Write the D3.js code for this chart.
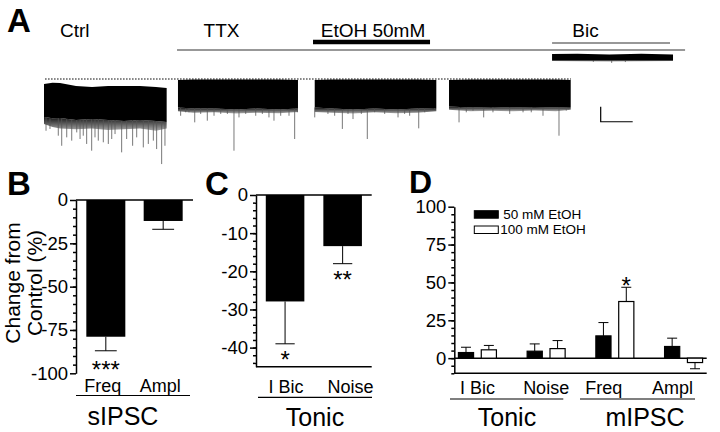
<!DOCTYPE html>
<html>
<head>
<meta charset="utf-8">
<script src="https://cdn.jsdelivr.net/npm/d3@7"></script>
<style>
  body { margin: 0; background: #fff; }
  svg { display: block; font-family: "Liberation Sans", Arial, sans-serif; }
</style>
</head>
<body>
<div id="fig"></div>
<script>
/* ---- panel B : sIPSC, % change from control ---- */
const sipscCats = ["Freq", "Ampl"];
const sipscMean = [-78.9, -12.1];
const sipscSem = [8.1, 4.8];
const sipscStars = ["***", ""];

/* ---- panel C : tonic current ---- */
const tonicCats = ["I Bic", "Noise"];
const tonicMean = [-27.9, -13.4];
const tonicSem = [11.1, 4.6];
const tonicStars = ["*", "**"];

/* ---- panel D : 50 vs 100 mM EtOH ---- */
const dCats = ["I Bic", "Noise", "Freq", "Ampl"];
const dGroups = [["Tonic", ["I Bic", "Noise"]], ["mIPSC", ["Freq", "Ampl"]]];
const dSeries = ["50 mM EtOH", "100 mM EtOH"];
const d50Mean = [3.7, 4.6, 14.7, 7.7];
const d50Sem = [3.5, 4.8, 8.8, 5.5];
const d100Mean = [5.5, 6.3, 37.4, -2.9];
const d100Sem = [2.9, 5.3, 9.4, 4.1];
const d100Stars = ["", "", "*", ""];

/* ---- panel A : current traces (time in s, current in pA) ---- */
// envelope rows: [t, top, dense bottom, fringe bottom]
const ctrlEnv = [[0,-33,-253,-300],[8,-25,-262,-320],[15,-27,-260,-330],[30,-47,-273,-335],[45,-53,-267,-330],[60,-47,-273,-340],[75,-47,-280,-335],[90,-47,-273,-330],[105,-53,-280,-345],[115,-60,-287,-330]];
const ctrlSpikes = [[1.9,-345],[5.6,-333],[13.4,-378],[16.6,-445],[21.3,-389],[26,-411],[30.7,-356],[33.8,-400],[36.8,-378],[40,-433],[44.7,-478],[47.8,-389],[50.9,-411],[55.6,-422],[60.3,-433],[63.5,-400],[66.6,-367],[72.8,-489],[77.5,-400],[83.1,-445],[86.9,-389],[93.1,-456],[97.8,-433],[102.5,-411],[105.6,-467],[110.3,-567],[113.4,-445]];
const ttxEnv = [[125.6,-7,-190,-215],[140,-3,-197,-225],[160,-3,-197,-222],[180,-3,-203,-230],[200,-3,-197,-225],[220,-3,-203,-228],[238.1,-7,-197,-220]];
const ttxSpikes = [[128.1,-245],[132.8,-222],[135.9,-222],[141.3,-289],[146.9,-233],[153.1,-278],[159.4,-245],[165.7,-233],[171.9,-233],[178.1,-478],[182.8,-256],[189.1,-233],[198.5,-245],[204.7,-233],[210.9,-256],[215.6,-278],[221.9,-245],[229.7,-245],[235,-400],[237.5,-222]];
const etohEnv = [[253.8,-7,-190,-220],[270,-3,-197,-225],[290,-3,-203,-230],[310,-3,-197,-222],[330,-3,-203,-228],[350,-3,-197,-225],[367.8,-7,-193,-215]];
const etohSpikes = [[253.8,-256],[266.2,-233],[272.5,-245],[279.7,-333],[285,-233],[289.7,-267],[297.5,-233],[303.1,-400],[310,-222],[319.4,-233],[331.9,-256],[338.1,-233],[342.8,-245],[351.3,-329],[356.9,-222],[366.3,-200]];
const washEnv = [[379.7,-7,-183,-205],[400,-3,-190,-215],[420,-3,-187,-212],[440,-3,-190,-215],[460,-3,-187,-210],[480,-3,-190,-215],[493.8,-7,-187,-205]];
const washSpikes = [[389.1,-289],[395.9,-222],[402.2,-211],[412.2,-256],[420.9,-222],[436.6,-233],[449.1,-222],[456.8,-222],[467.8,-245],[482.8,-378],[489.6,-211]];
const bicEnv = [[476.3,166,125,120],[500,168,124,118],[530,164,123,116],[560,168,125,119],[589.7,164,125,120]];
const bicSpikes = [[532.2,107],[545,113],[515,114]];
// drug applications [label, start, end]
const drugs = [["TTX", 124.7, 601], ["EtOH 50mM", 252.2, 361.9], ["Bic", 476.3, 586.9]];
const scaleBar = { t: 521.9, pA: -185, dt: 30, dI: 100 };

const W = 720, H = 432;
const svg = d3.create("svg").attr("width", W).attr("height", H).attr("viewBox", [0, 0, W, H]);
svg.append("rect").attr("width", W).attr("height", H).attr("fill", "#fff");

// dégradé pour la frange de bruit sous les traces
const grad = svg.append("defs").append("linearGradient").attr("id", "fringe")
  .attr("x1", 0).attr("x2", 0).attr("y1", 0).attr("y2", 1);
grad.append("stop").attr("offset", "0%").attr("stop-color", "#111");
grad.append("stop").attr("offset", "100%").attr("stop-color", "#aaa");

/* petite fonction pour les lettres de panneau */
function panelLetter(txt, x, y, fs) {
  svg.append("text").attr("x", x).attr("y", y).text(txt)
    .attr("font-size", fs || 33).attr("font-weight", "bold");
}

/* ============ A ============ */
const xA = d3.scaleLinear().domain([0, 600]).range([44, 684]);
const yA = d3.scaleLinear().domain([0, -600]).range([79, 169]);

panelLetter("A", 7, 32);
svg.append("text").attr("x", 60).attr("y", 37).attr("font-size", 19).text("Ctrl");

const gDrug = svg.append("g");
const drugY = [50, 42, 43];
const drugW = [1.2, 4.5, 1.2];
const drugLabelX = [221.5, 373, 585.5];
drugs.forEach((d, i) => {
  gDrug.append("line").attr("x1", xA(d[1])).attr("x2", xA(d[2]))
    .attr("y1", drugY[i]).attr("y2", drugY[i])
    .attr("stroke", i === 1 ? "#000" : "#333").attr("stroke-width", drugW[i]);
  gDrug.append("text").attr("x", drugLabelX[i]).attr("y", 37)
    .attr("text-anchor", "middle").attr("font-size", 19).text(d[0]);
});

// dotted baseline
svg.append("line").attr("x1", xA(1)).attr("x2", xA(494)).attr("y1", yA(0)).attr("y2", yA(0))
  .attr("stroke", "#000").attr("stroke-width", 1).attr("stroke-dasharray", "1.5,1.5");

function drawTrace(env, spikes) {
  const g = svg.append("g");
  const fringe = d3.area().x(d => xA(d[0])).y0(d => yA(d[3])).y1(d => yA(d[2]));
  g.append("path").datum(env).attr("d", fringe).attr("fill", "url(#fringe)");
  g.selectAll("line").data(spikes).join("line")
    .attr("x1", d => xA(d[0])).attr("x2", d => xA(d[0]))
    .attr("y1", d => yA(d3.least(env, e => Math.abs(e[0] - d[0]))[2])).attr("y2", d => yA(d[1]))
    .attr("stroke", "#555").attr("stroke-width", 0.8);
  const area = d3.area().x(d => xA(d[0])).y0(d => yA(d[2])).y1(d => yA(d[1]));
  g.append("path").datum(env).attr("d", area).attr("fill", "#000");
}
drawTrace(ctrlEnv, ctrlSpikes);
drawTrace(ttxEnv, ttxSpikes);
drawTrace(etohEnv, etohSpikes);
drawTrace(washEnv, washSpikes);
drawTrace(bicEnv, bicSpikes);

// scale bar
svg.append("path")
  .attr("d", `M${xA(scaleBar.t)},${yA(scaleBar.pA)}V${yA(scaleBar.pA - scaleBar.dI)}H${xA(scaleBar.t + scaleBar.dt)}`)
  .attr("fill", "none").attr("stroke", "#000").attr("stroke-width", 1.2);

/* ============ axes helpers ============ */
function yAxis(x, y, major, minor, fs) {
  const g = svg.append("g").attr("transform", `translate(${x},0)`);
  g.call(d3.axisLeft(y).tickValues(major).tickSize(6).tickSizeOuter(0).tickPadding(2).tickFormat(d => String(d)));
  g.append("g").call(d3.axisLeft(y).tickValues(minor).tickSize(3).tickFormat(""))
    .call(gg => gg.select(".domain").remove());
  g.attr("font-size", fs).attr("font-family", null);
  g.selectAll("path,line").attr("stroke", "#000").attr("stroke-width", 1.5);
  g.selectAll("text").attr("fill", "#000");
  return g;
}
function hline(x1, x2, y, w) {
  svg.append("line").attr("x1", x1).attr("x2", x2).attr("y1", y).attr("y2", y)
    .attr("stroke", "#000").attr("stroke-width", w || 1.5);
}
function star(x, cy, txt, fs) {
  svg.append("text").attr("x", x).attr("y", cy + 0.58 * fs).attr("text-anchor", "middle")
    .attr("font-size", fs).text(txt);
}
function simpleBars(cats, mean, sem, x, y, capFrac) {
  const g = svg.append("g");
  const bw = x.bandwidth();
  g.selectAll("rect").data(cats).join("rect")
    .attr("x", d => x(d)).attr("width", bw)
    .attr("y", (d, i) => y(Math.max(0, mean[i])))
    .attr("height", (d, i) => Math.abs(y(mean[i]) - y(0)))
    .attr("fill", "#000");
  cats.forEach((c, i) => {
    const cx = x(c) + bw / 2, e = mean[i] - sem[i];
    g.append("line").attr("x1", cx).attr("x2", cx).attr("y1", y(mean[i])).attr("y2", y(e))
      .attr("stroke", "#000").attr("stroke-width", 1);
    g.append("line").attr("x1", cx - bw * capFrac / 2).attr("x2", cx + bw * capFrac / 2)
      .attr("y1", y(e)).attr("y2", y(e)).attr("stroke", "#000").attr("stroke-width", 1);
  });
}

/* ============ B ============ */
panelLetter("B", 7, 195);
const yB = d3.scaleLinear().domain([-100, 0]).range([373.3, 200]);
const xB = d3.scaleBand().domain(sipscCats).range([76, 193]).paddingInner(0.32).paddingOuter(0.18);
simpleBars(sipscCats, sipscMean, sipscSem, xB, yB, 0.56);
yAxis(76, yB, d3.range(-100, 1, 25), d3.range(-95, 0, 5), 18.5);
hline(76, 193, yB(0));
star(xB("Freq") + xB.bandwidth() / 2, 364, sipscStars[0], 24);
sipscCats.forEach((c, i) => {
  svg.append("text").attr("x", xB(c) + xB.bandwidth() / 2 - 3).attr("y", 391.5)
    .attr("text-anchor", "middle").attr("font-size", 18).text(c);
});
hline(76, 190, 395.5, 1.2);
svg.append("text").attr("x", 123).attr("y", 425).attr("text-anchor", "middle").attr("font-size", 25).text("sIPSC");
svg.append("text").attr("transform", "translate(20,283) rotate(-90)").attr("text-anchor", "middle")
  .attr("font-size", 21).text("Change from");
svg.append("text").attr("transform", "translate(41.5,283) rotate(-90)").attr("text-anchor", "middle")
  .attr("font-size", 21).text("Control (%)");

/* ============ C ============ */
panelLetter("C", 205, 195);
const yC = d3.scaleLinear().domain([-45, 0]).range([366.7, 195]);
const xC = d3.scaleBand().domain(tonicCats).range([256, 371.7]).paddingInner(0.33).paddingOuter(0.17);
simpleBars(tonicCats, tonicMean, tonicSem, xC, yC, 0.5);
yAxis(256, yC, d3.range(-40, 1, 10), d3.range(-44, 0, 2), 18.5);
hline(256, 371.7, yC(0));
hline(256, 371.7, yC(-45));
star(xC("I Bic") + xC.bandwidth() / 2, 354, tonicStars[0], 24);
star(xC("Noise") + xC.bandwidth() / 2, 274, tonicStars[1], 24);
tonicCats.forEach((c, i) => {
  svg.append("text").attr("x", xC(c) + xC.bandwidth() / 2 + (i ? 8 : 1)).attr("y", 393)
    .attr("text-anchor", "middle").attr("font-size", 18).text(c);
});
hline(258, 372, 397.3, 1.2);
svg.append("text").attr("x", 315).attr("y", 426).attr("text-anchor", "middle").attr("font-size", 25).text("Tonic");

/* ============ D ============ */
panelLetter("D", 409, 193, 32);
const yD = d3.scaleLinear().domain([-10, 100]).range([373.3, 206.7]);
const xD = d3.scaleBand().domain(dCats).range([454.3, 706.7]).paddingInner(0.447).paddingOuter(0.06);
const xDs = d3.scaleBand().domain(dSeries).range([0, xD.bandwidth()]).paddingInner(0.337);
const dMeans = [d50Mean, d100Mean], dSems = [d50Sem, d100Sem];
const dFill = ["#000", "#fff"];
hline(454.3, 706.7, yD(0));
const gD = svg.append("g");
dSeries.forEach((s, si) => {
  const bw = xDs.bandwidth();
  dCats.forEach((c, i) => {
    const m = dMeans[si][i], e = m + Math.sign(m) * dSems[si][i];
    const x0 = xD(c) + xDs(s), cx = x0 + bw / 2;
    gD.append("line").attr("x1", cx).attr("x2", cx).attr("y1", yD(m)).attr("y2", yD(e))
      .attr("stroke", "#000").attr("stroke-width", 1);
    gD.append("line").attr("x1", cx - bw * 0.33).attr("x2", cx + bw * 0.33).attr("y1", yD(e)).attr("y2", yD(e))
      .attr("stroke", "#000").attr("stroke-width", 1);
    gD.append("rect").attr("x", x0).attr("width", bw)
      .attr("y", yD(Math.max(0, m))).attr("height", Math.abs(yD(m) - yD(0)))
      .attr("fill", dFill[si]).attr("stroke", "#000").attr("stroke-width", 1.2);
  });
});
yAxis(454.3, yD, d3.range(0, 101, 25), d3.range(-10, 100, 5), 18.5);
hline(454.3, 706.7, yD(-10));
d100Stars.forEach((st, i) => {
  if (st) star(xD(dCats[i]) + xDs(dSeries[1]) + xDs.bandwidth() / 2, 280, st, 24);
});
// legend
const leg = svg.append("g").attr("transform", "translate(474.3,210.7)");
dSeries.forEach((s, i) => {
  leg.append("rect").attr("x", 0).attr("y", i * 15.3).attr("width", 24).attr("height", 7.5)
    .attr("fill", dFill[i]).attr("stroke", "#000").attr("stroke-width", 1);
  leg.append("text").attr("x", i ? 26 : 29).attr("y", i * 15.3 + 8.5).attr("font-size", 13.5).text(s);
});
dCats.forEach((c, i) => {
  svg.append("text").attr("x", xD(c) + xD.bandwidth() / 2 - (i > 1 ? 11 : 0)).attr("y", 393.5)
    .attr("text-anchor", "middle").attr("font-size", 18).text(c);
});
const groupLine = [[450, 563.3, 507], [580, 695, 645]];
dGroups.forEach((gr, i) => {
  hline(groupLine[i][0], groupLine[i][1], 399, 1.2);
  svg.append("text").attr("x", groupLine[i][2]).attr("y", 426).attr("text-anchor", "middle")
    .attr("font-size", 25).text(gr[0]);
});

d3.select("#fig").node().append(svg.node());
</script>
</body>
</html>
